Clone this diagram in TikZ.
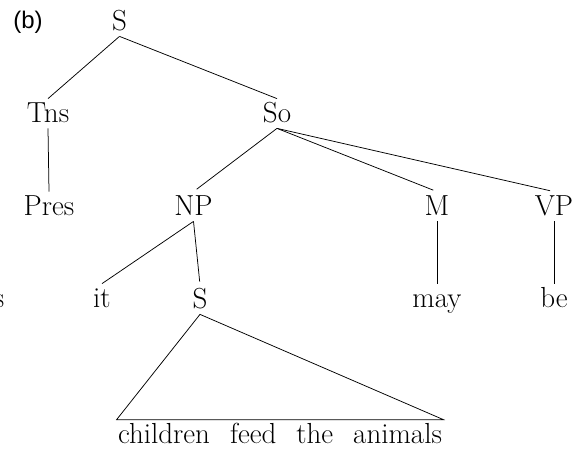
\documentclass[tikz,border=0pt]{standalone}
\usepackage{fontspec}
\newfontfamily\tagfont{Liberation Sans}

\begin{document}
\begin{tikzpicture}[x=1pt, y=-1pt, line width=0.75pt,
  cat/.style={anchor=base, inner xsep=2pt, inner ysep=3pt, text height=20pt, text depth=3pt, font=\fontsize{29}{34}\selectfont}]

\useasboundingbox (0,0) rectangle (573,450);

% Panel label
\node[anchor=base, inner sep=0pt, font=\tagfont\fontsize{24}{28}\selectfont] (tag) at (28,28) {(b)};

% Categories
\node[cat] (S) at (119.5,30) {S};
\node[cat] (Tns) at (48,122) {Tns};
\node[cat] (So) at (277,122) {So};
\node[cat] (Pres) at (49,215) {Pres};
\node[cat] (NP) at (193.5,215) {NP};
\node[cat] (M) at (437,215) {M};
\node[cat] (VP) at (554,215) {VP};

% Words and the embedded S
\node[cat] (was) at (-1,307) {s};
\node[cat] (it) at (102,307) {it};
\node[cat] (Sx) at (200,308) {S};
\node[cat] (may) at (437,307) {may};
\node[cat] (be) at (554,307) {be};

% Terminal string under the triangle
\node[cat, inner xsep=1pt] (words) at (280,443) {\spaceskip=20pt\relax children feed the animals};

% Branches
\draw (S.south) -- (Tns.north);
\draw (S.south) -- (So.north);
\draw (Tns.south) -- (Pres.north);
\draw[shorten >=4pt] (So.south) -- (NP.north);
\draw[shorten >=4pt] (So.south) -- (M.north);
\draw[shorten >=4pt] (So.south) -- (VP.north);
\draw (NP.south) -- (it.north);
\draw[shorten >=3pt] (NP.south) -- (Sx.north);
\draw (M.south) -- (may.north);
\draw (VP.south) -- (be.north);

% Triangle
\draw (Sx.south) -- (words.north west) -- (words.north east) -- cycle;

\end{tikzpicture}
\end{document}
